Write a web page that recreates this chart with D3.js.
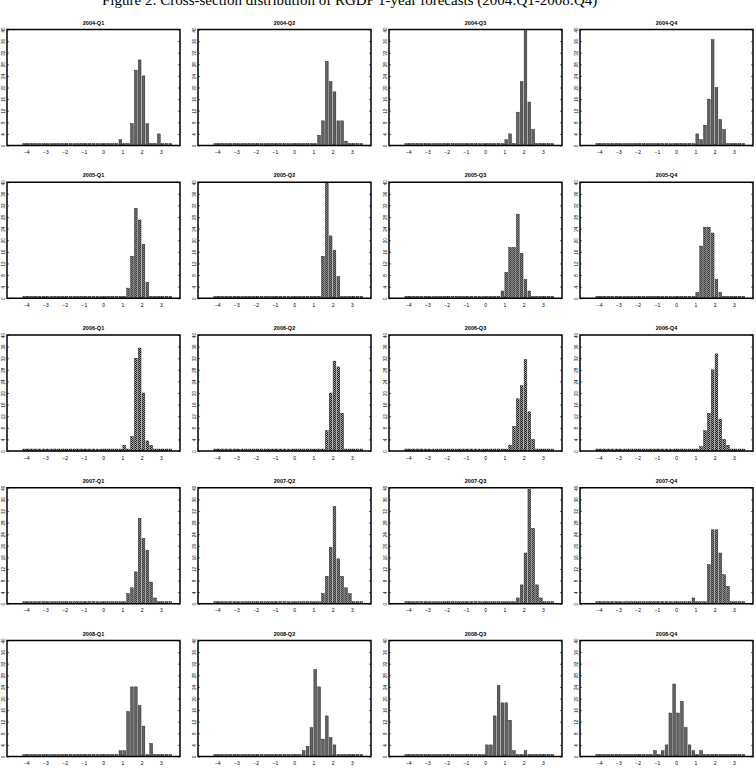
<!DOCTYPE html>
<html>
<head>
<meta charset="utf-8">
<script src="https://cdn.jsdelivr.net/npm/d3@7"></script>
<style>
  body { margin: 0; background: #fff; }
  svg { display: block; }
</style>
</head>
<body>
<div id="graph"></div>
<script>
// one title per panel, read left to right, top to bottom
const panelTitles = [
  '2004-Q1', '2004-Q2', '2004-Q3', '2004-Q4',
  '2005-Q1', '2005-Q2', '2005-Q3', '2005-Q4',
  '2006-Q1', '2006-Q2', '2006-Q3', '2006-Q4',
  '2007-Q1', '2007-Q2', '2007-Q3', '2007-Q4',
  '2008-Q1', '2008-Q2', '2008-Q3', '2008-Q4'
];

// centre of the first listed bin for each panel
const firstBin = [
  0.9, 1.3, 1.1, 1.1,
  1.3, 1.5, 0.9, 1.1,
  1.1, 1.7, 1.3, 1.3,
  1.3, 1.5, 1.7, 0.9,
  0.9, 0.5, 0.1, -1.1
];

// share of forecasters (%) per 0.2 bin, starting at firstBin
const shares = [
  [2, 0, 0, 7.5, 26, 29.5, 24, 7.5, 0, 0, 4],
  [3.5, 8.5, 29, 22, 18.5, 8.5, 8.5, 1.5],
  [2, 4, 0, 11.5, 22, 40, 15, 5.5],
  [4, 2, 7, 16, 36.5, 20, 9, 5.5],
  [3.5, 14.5, 31, 27, 18.5, 5.5],
  [14.5, 40, 21.5, 16.5, 7.5],
  [2.5, 9, 17.5, 17.5, 29, 15.5, 6.5, 2.5],
  [2, 18, 24.5, 24.5, 22.5, 6.5, 2],
  [2, 0, 5, 32, 35.5, 20, 3.5, 2],
  [7, 20, 31, 29, 13],
  [2, 8.5, 18, 22.5, 31.5, 13.5, 4],
  [1.5, 7, 13, 28, 33.5, 11, 4, 2],
  [3.5, 5.5, 11, 29.5, 22.5, 18.5, 7.5, 2],
  [3.5, 9.5, 19.5, 33.5, 15.5, 9.5, 5.5, 3.5],
  [2, 6.5, 17.5, 39.5, 26, 6.5, 2],
  [2, 0, 0, 0, 13.5, 25.5, 25.5, 17.5, 10, 6],
  [2, 2, 15.5, 24, 24, 17.5, 10.5, 0, 4.5],
  [2, 3.5, 10, 30, 24, 6, 14, 6.5, 4],
  [4, 4, 14, 24.5, 18.5, 18.5, 12.5, 2, 0, 0, 2],
  [2, 0, 2, 4, 15, 25, 15, 19, 10, 4, 2, 0, 2]
];

const xTicks = [-4, -3, -2, -1, 0, 1, 2, 3];
const yTicks = [0, 4, 8, 12, 16, 20, 24, 28, 32, 36, 40];
const figureTitle = 'Figure 2: Cross-section distribution of RGDP 1-year forecasts (2004:Q1-2008:Q4)';

const binFirst = -4.1;
const binStep = 0.2;
const binCount = 39;

const width = 756;
const height = 770;
const panelW = 173;
const panelH = 116;
const colStep = 191;
const rowStep = 152.75;
const left0 = 7;
const top0 = 29.5;
const sans = 'Liberation Sans, Arial, sans-serif';

let svg;

function binsFor(p) {
  let out = [];
  for (let i = 0; i < binCount; i++) {
    let c = +(binFirst + i * binStep).toFixed(1);
    let k = Math.round((c - firstBin[p]) / binStep);
    let v = (k >= 0 && k < shares[p].length) ? shares[p][k] : 0;
    out.push({c: c, v: v});
  }
  return out;
}

function drawPanel(p) {
  let col = p % 4;
  let row = Math.floor(p / 4);

  let x = d3.scaleLinear().domain([-5, 4]).range([0, panelW]);
  let y = d3.scaleLinear().domain([0, 40]).range([panelH, 0]);
  let barW = (x(binStep) - x(0)) * 0.72;

  let g = svg.append('g')
    .attr('transform', 'translate(' + (left0 + col * colStep) + ',' + (top0 + row * rowStep) + ')');

  g.append('text')
    .attr('x', panelW / 2)
    .attr('y', -5)
    .attr('text-anchor', 'middle')
    .attr('font-family', sans)
    .attr('font-size', '5.5px')
    .attr('font-weight', 'bold')
    .text(panelTitles[p]);

  g.selectAll('.bar')
    .data(binsFor(p))
    .enter()
    .append('rect')
    .attr('class', 'bar')
    .attr('x', function(d) { return x(d.c) - barW / 2; })
    .attr('width', barW)
    .attr('y', function(d) { return d.v > 0 ? y(d.v) : panelH - 2; })
    .attr('height', function(d) { return d.v > 0 ? panelH - y(d.v) : 2; })
    .attr('fill', 'url(#stipple)')
    .attr('stroke', '#111')
    .attr('stroke-width', 0.4);

  // y axis, labels turned on their side
  let ya = g.append('g')
    .attr('class', 'axis')
    .call(d3.axisLeft(y).tickValues(yTicks).tickSize(-2).tickPadding(3));
  ya.select('.domain').remove();
  ya.selectAll('text')
    .attr('transform', 'rotate(-90)')
    .attr('x', 0)
    .attr('y', -1.8)
    .attr('dy', '0')
    .attr('text-anchor', 'middle')
    .attr('font-size', '4.5px');

  let yr = g.append('g')
    .attr('transform', 'translate(' + panelW + ',0)')
    .call(d3.axisRight(y).tickValues(yTicks).tickSize(-2).tickFormat(''));
  yr.select('.domain').remove();

  let xa = g.append('g')
    .attr('class', 'axis')
    .attr('transform', 'translate(0,' + panelH + ')')
    .call(d3.axisBottom(x).tickValues(xTicks).tickSize(-2).tickPadding(5));
  xa.select('.domain').remove();
  xa.selectAll('text').attr('font-size', '5px');

  g.selectAll('.tick line')
    .attr('stroke', '#000')
    .attr('stroke-width', 0.6);
  g.selectAll('.axis text')
    .attr('font-family', sans)
    .attr('fill', '#000');

  g.append('rect')
    .attr('width', panelW)
    .attr('height', panelH)
    .attr('fill', 'none')
    .attr('stroke', '#000')
    .attr('stroke-width', 1.5);
}

function draw() {
  svg = d3.select('#graph')
    .append('svg')
    .attr('width', width)
    .attr('height', height);

  let pat = svg.append('defs')
    .append('pattern')
    .attr('id', 'stipple')
    .attr('width', 2)
    .attr('height', 2)
    .attr('patternUnits', 'userSpaceOnUse');
  pat.append('rect').attr('width', 2).attr('height', 2).attr('fill', '#aaa');
  pat.append('rect').attr('width', 1).attr('height', 1).attr('fill', '#1a1a1a');
  pat.append('rect').attr('x', 1).attr('y', 1).attr('width', 1).attr('height', 1).attr('fill', '#1a1a1a');

  svg.append('text')
    .attr('x', 102)
    .attr('y', 5)
    .attr('font-family', 'Liberation Serif, Times New Roman, serif')
    .attr('font-size', '15px')
    .text(figureTitle);

  for (let p = 0; p < panelTitles.length; p++) {
    drawPanel(p);
  }
}

draw();
</script>
</body>
</html>
